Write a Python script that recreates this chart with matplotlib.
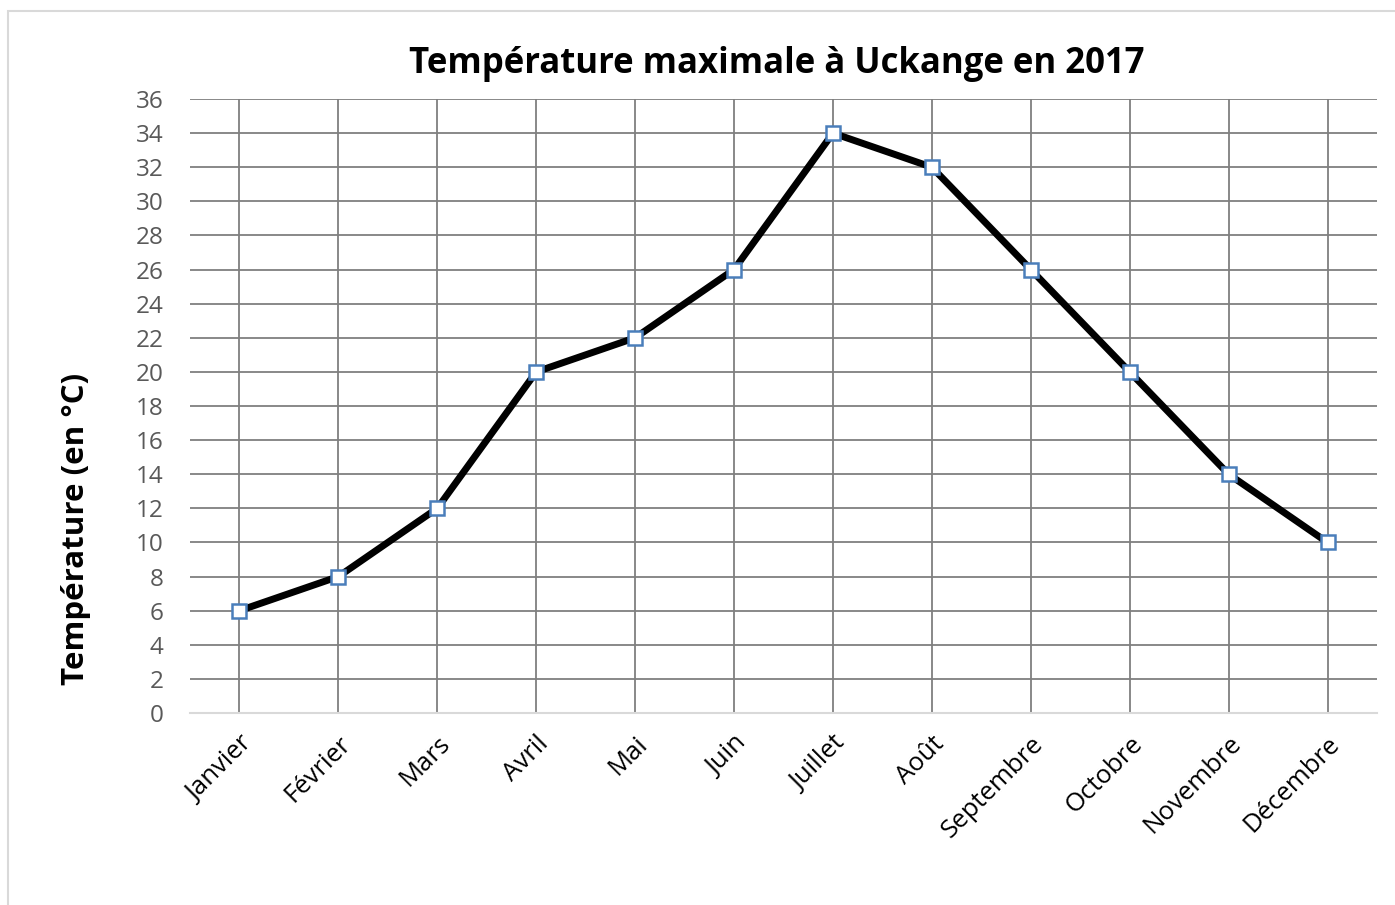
import numpy as np
import matplotlib.pyplot as plt
from matplotlib.patches import Rectangle

mois = ['Janvier', 'Février', 'Mars', 'Avril', 'Mai', 'Juin', 'Juillet',
        'Août', 'Septembre', 'Octobre', 'Novembre', 'Décembre']
temp_max = [6, 8, 12, 20, 22, 26, 34, 32, 26, 20, 14, 10]
y_ticks = list(range(0, 37, 2))

plt.rcParams['font.family'] = ['Open Sans', 'DejaVu Sans']

fig = plt.figure(figsize=(13.95, 9.05), dpi=100)

# light frame around the chart, like the Excel chart area
fig.patches.append(Rectangle((8 / 1395, -0.1), 1.2, 1 - 11 / 905 + 0.1,
                             transform=fig.transFigure, fill=False,
                             edgecolor='#d9d9d9', linewidth=1.5))

ax = fig.add_axes([190 / 1395, 1 - 713 / 905, 1187 / 1395, 614 / 905])

x = np.arange(len(mois))
ax.plot(x, temp_max, color='black', linewidth=5, zorder=3,
        marker='s', markersize=10.5, markerfacecolor='white',
        markeredgecolor='#4a7ebb', markeredgewidth=1.8)

ax.set_xlim(-0.5, len(mois) - 0.5)
ax.set_ylim(0, 36)
ax.set_yticks(y_ticks)
ax.set_xticks(x)
ax.set_xticklabels(mois, rotation=45, ha='right', va='top',
                   rotation_mode='anchor', fontsize=18.5, color='black')
ax.tick_params(axis='y', labelsize=17.5, labelcolor='#595959', length=0, pad=19)
ax.tick_params(axis='x', length=0, pad=13)

ax.grid(True, color='#7f7f7f', linewidth=1.3)
ax.set_axisbelow(True)
for side in ['left', 'right', 'top']:
    ax.spines[side].set_visible(False)
ax.spines['bottom'].set_color('#d9d9d9')
ax.spines['bottom'].set_linewidth(1.5)

# Excel puts the axis title a bit below the middle
ax.set_ylabel('Température (en °C)', fontsize=22.5, fontweight='bold')
ax.yaxis.set_label_coords(-0.0834, 0.30)
fig.text(777 / 1395, 1 - 64 / 905, 'Température maximale à Uckange en 2017',
         ha='center', va='center', fontsize=25, fontweight='bold')

fig.savefig('out.png', dpi=100)
